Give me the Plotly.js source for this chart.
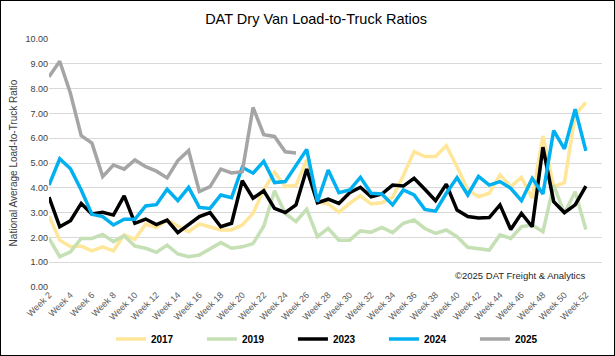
<!DOCTYPE html>
<html>
<head>
<meta charset="utf-8">
<script src="https://cdn.plot.ly/plotly-3.0.1.min.js"></script>
<style>
html,body{margin:0;padding:0;background:#fff;}
#wrap{width:615px;height:356px;box-sizing:border-box;border:1px solid #000;}
#chart{width:613px;height:354px;}
</style>
</head>
<body>
<div id="wrap"><div id="chart"></div></div>
<script>
// Weeks 2..52
var weeks = [];
for (var w = 2; w <= 52; w++) weeks.push(w);
var weeks2025 = weeks.slice(0, 24); // weeks 2..25

var v2017 = [2.86,1.89,1.62,1.65,1.46,1.62,1.46,2.10,1.92,2.54,2.40,2.70,2.46,2.23,2.54,2.43,2.30,2.30,2.50,2.97,3.92,4.63,4.05,4.10,5.12,3.44,3.35,3.01,3.37,3.68,3.35,3.40,3.62,4.50,5.46,5.26,5.26,5.70,4.85,3.91,3.64,3.78,4.52,4.05,4.42,3.58,6.09,4.05,4.21,6.94,7.44];
var v2019 = [1.96,1.22,1.42,1.96,1.96,2.12,1.83,2.07,1.65,1.56,1.40,1.69,1.33,1.22,1.29,1.56,1.79,1.56,1.62,1.75,2.45,3.88,2.97,2.64,3.13,2.03,2.36,1.89,1.89,2.26,2.21,2.40,2.19,2.57,2.70,2.36,2.16,2.30,2.03,1.60,1.56,1.49,2.10,1.96,2.43,2.50,2.23,4.11,2.97,3.84,2.32];
var v2023 = [3.62,2.43,2.67,3.37,2.94,3.01,2.90,3.67,2.57,2.74,2.52,2.70,2.19,2.50,2.84,3.00,2.43,2.57,4.29,3.58,3.88,3.17,3.00,3.31,4.76,3.40,3.54,3.37,3.80,4.02,3.64,3.75,4.11,4.07,4.38,3.94,3.48,4.15,3.10,2.84,2.78,2.80,3.31,2.32,2.97,2.43,5.64,3.44,3.00,3.31,4.07];
var v2024 = [4.11,5.17,4.77,3.91,2.93,2.84,2.50,2.73,2.73,3.27,3.32,3.94,3.48,4.02,3.21,3.17,3.71,3.60,4.83,4.59,5.07,4.21,4.25,4.92,5.55,3.44,4.72,3.80,3.91,4.42,3.78,3.75,3.31,3.91,3.71,3.13,3.06,3.78,4.41,3.71,4.46,4.11,4.25,3.98,3.48,4.38,3.75,6.31,5.57,7.17,5.49];
var v2025 = [8.48,9.10,7.80,6.10,5.80,4.45,4.92,4.75,5.12,4.85,4.67,4.40,5.10,5.50,3.85,4.05,4.75,4.60,4.65,7.24,6.14,6.07,5.45,5.40];

var tickVals = [];
var tickText = [];
for (var t = 2; t <= 52; t += 2) { tickVals.push(t); tickText.push('Week ' + t); }

var seriesNames = ['2017','2019','2023','2024','2025'];
var seriesColors = ['#FFE699','#C5E0B4','#000000','#00B0F0','#A5A5A5'];
var seriesX = [weeks, weeks, weeks, weeks, weeks2025];
var seriesY = [v2017, v2019, v2023, v2024, v2025];

var traces = seriesNames.map(function(n, i){
  return {
    x: seriesX[i], y: seriesY[i], name: n, type: 'scatter', mode: 'lines',
    line: {color: seriesColors[i], width: 3.5},
    hoverinfo: 'skip'
  };
});

var fontFam = 'Liberation Sans, Arial, sans-serif';
var layout = {
  width: 613, height: 354,
  margin: {l: 48, r: 12, t: 38, b: 68, autoexpand: false},
  paper_bgcolor: '#fff', plot_bgcolor: '#fff',
  font: {family: fontFam, color: '#595959', size: 9},
  title: {text: 'DAT Dry Van Load-to-Truck Ratios', x: 0.514, xanchor: 'center', y: 0.95, yanchor: 'middle',
          font: {family: fontFam, size: 14.5, color: '#000'}},
  xaxis: {range: [2, 53.5], tickvals: tickVals, ticktext: tickText, tickangle: -45, automargin: false,
          showgrid: false, zeroline: false, showline: false, ticks: '',
          tickfont: {size: 9, color: '#595959'}, fixedrange: true},
  yaxis: {range: [0, 10], dtick: 1, tickformat: '.2f', showgrid: true, gridcolor: '#D9D9D9', gridwidth: 1,
          zeroline: false, showline: false, ticks: '', tickfont: {size: 9, color: '#404040'}, automargin: false,
          title: {text: 'National Average Load-to-Truck Ratio', font: {size: 10, color: '#404040'}, standoff: 5},
          fixedrange: true},
  showlegend: true,
  legend: {orientation: 'h', x: 0.112, xanchor: 'left', y: -0.21, yanchor: 'middle',
           font: {size: 10, color: '#000', family: fontFam, weight: 'bold'},
           entrywidth: 46, entrywidthmode: 'pixels', itemwidth: 30, traceorder: 'normal'},
  annotations: [{text: '©2025 DAT Freight & Analytics', xref: 'paper', yref: 'paper',
                 x: 0.972, y: 0.047, xanchor: 'right', yanchor: 'middle', showarrow: false,
                 font: {size: 9.5, color: '#262626', family: fontFam}}]
};

Plotly.newPlot('chart', traces, layout, {displayModeBar: false, staticPlot: true});
</script>
</body>
</html>
